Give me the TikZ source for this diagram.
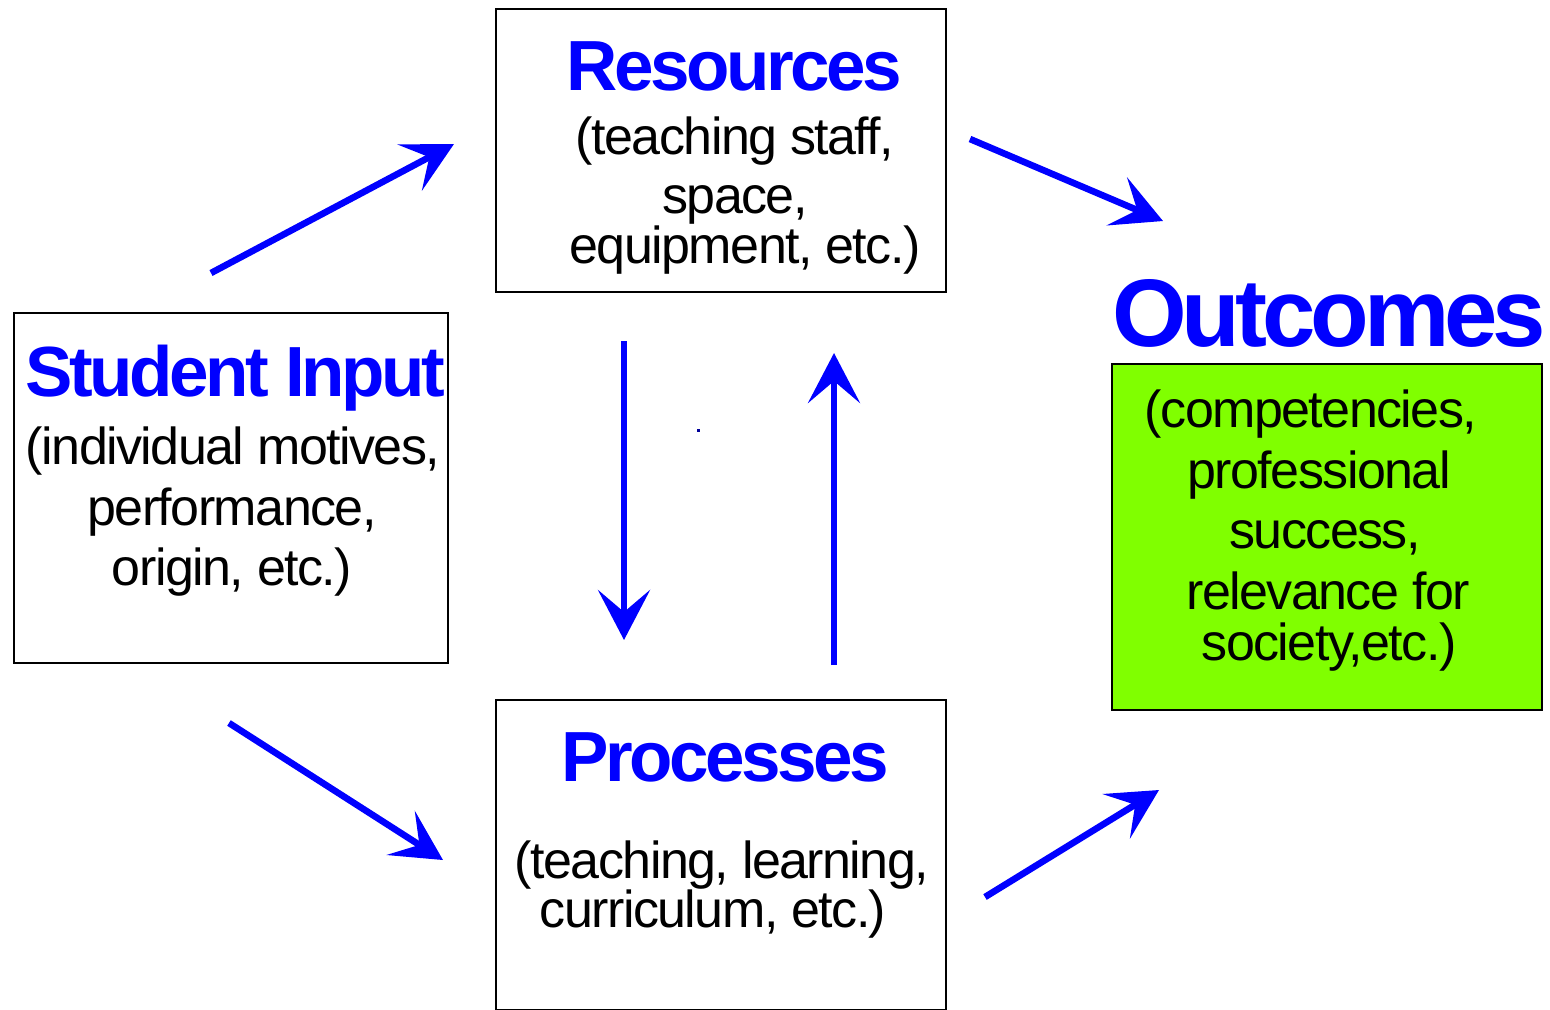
\documentclass[tikz,border=0pt]{standalone}
\usepackage{fontspec}
\setmainfont{Liberation Sans}
\newfontfamily\ttlfont[LetterSpace=-4.8]{Liberation Sans}
\newfontfamily\bigfont[LetterSpace=-5.3]{Liberation Sans}
\newfontfamily\bodyfont[LetterSpace=-3]{Liberation Sans}
\usetikzlibrary{arrows.meta}
\definecolor{chart}{RGB}{128,255,0}
\tikzset{
  box/.style={draw=black, line width=1.4pt, rectangle, inner sep=0pt, outer sep=0pt},
  ttl/.style={anchor=base, inner sep=0pt, text=blue, font=\ttlfont\bfseries\fontsize{35.5}{40}\selectfont},
  big/.style={anchor=base, inner sep=0pt, text=blue, font=\bigfont\bfseries\fontsize{48}{54}\selectfont},
  body/.style={anchor=base, inner sep=0pt, text=black, font=\bodyfont\fontsize{26}{30}\selectfont},
  flow/.style={draw=blue, line width=3.3pt, -{Stealth[length=25pt, width=26pt, inset=11pt]}}
}
\begin{document}
\begin{tikzpicture}[x=0.5pt, y=-0.5pt]
\useasboundingbox (0,0) rectangle (1550,1009);
% boxes
\node[box, minimum width=225pt, minimum height=141.5pt] (res) at (721,150.5) {};
\node[box, minimum width=217pt, minimum height=175pt] (stu) at (231,488) {};
\node[box, minimum width=225pt, minimum height=155pt] (pro) at (721,855) {};
\node[box, fill=chart, minimum width=215pt, minimum height=173pt] (out) at (1327,537) {};
% Resources texts
\node[ttl] (resT) at (734,90) {Resources};
\node[body] (res1) at (735,154) {(teaching staff,};
\node[body] (res2) at (735,213) {space,};
\node[body] (res3) at (745,263) {equipment, etc.)};
% Student Input texts
\node[ttl] (stuT) at (235,396) {Student Input};
\node[body] (stu1) at (233,464) {(individual motives,};
\node[body] (stu2) at (232,525) {performance,};
\node[body] (stu3) at (232,585) {origin, etc.)};
% Processes texts
\node[ttl] (proT) at (725,781) {Processes};
\node[body] (pro1) at (722,878) {(teaching, learning,};
\node[body] (pro2) at (713,927) {curriculum, etc.)};
% Outcomes texts
\node[big] (outT) at (1329,346) {Outcomes};
\node[body] (out1) at (1311,427) {(competencies,};
\node[body] (out2) at (1319,488) {professional};
\node[body] (out3) at (1325,548) {success,};
\node[body] (out4) at (1328,609) {relevance for};
\node[body] (out5) at (1329,660) {society,etc.)};
% arrow end points
\coordinate (a1s) at (211,273); \coordinate (a1e) at (454,144);
\coordinate (a2s) at (970,139); \coordinate (a2e) at (1163,221);
\coordinate (a3s) at (624,341); \coordinate (a3e) at (624,640);
\coordinate (a4s) at (834,665); \coordinate (a4e) at (834,353);
\coordinate (a5s) at (229,723); \coordinate (a5e) at (443,860);
\coordinate (a6s) at (985,897); \coordinate (a6e) at (1159,790);
\draw[flow] (a1s) -- (a1e);
\draw[flow] (a2s) -- (a2e);
\draw[flow] (a3s) -- (a3e);
\draw[flow] (a4s) -- (a4e);
\draw[flow] (a5s) -- (a5e);
\draw[flow] (a6s) -- (a6e);
% stray speck
\fill[blue!60!black] (697,429) rectangle (700,432);
\end{tikzpicture}
\end{document}
